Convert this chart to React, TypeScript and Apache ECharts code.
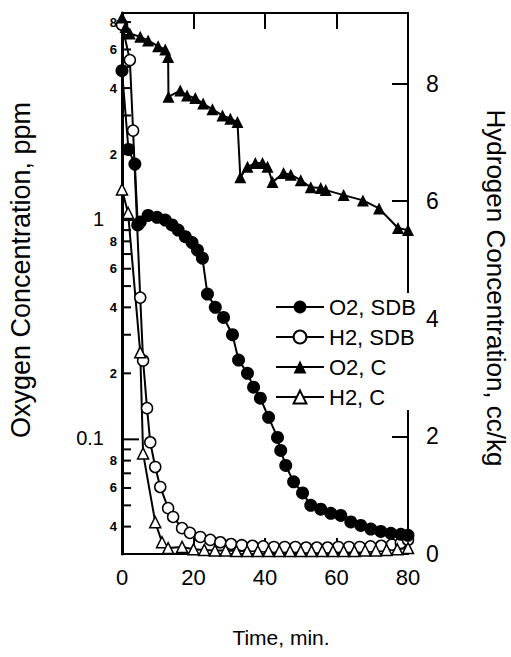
import React, { useEffect, useRef } from 'react';
import * as echarts from 'echarts';

const FONT = '"Liberation Sans", Arial, Helvetica, sans-serif';

// O2, SDB (filled circles) – oxygen, ppm (left log axis)
const o2SdbTime = [0, 1.8, 3.6, 4.4, 5.1, 7.3, 9.8, 12.1, 14.0, 15.7, 17.7, 19.6, 21.1, 22.5, 23.9, 26.1, 28.4, 30.9, 32.6, 35.1, 36.8, 38.7, 41.0, 43.5, 44.4, 45.8, 48.0, 50.5, 52.8, 55.6, 58.4, 61.2, 64.0, 66.8, 69.6, 72.4, 75.2, 78.0, 80];
const o2SdbPpm = [4.8, 2.1, 1.8, 0.95, 0.98, 1.05, 1.03, 1.0, 0.95, 0.9, 0.84, 0.79, 0.73, 0.67, 0.46, 0.4, 0.36, 0.3, 0.23, 0.2, 0.173, 0.154, 0.126, 0.102, 0.089, 0.076, 0.064, 0.057, 0.05, 0.048, 0.046, 0.045, 0.042, 0.0405, 0.039, 0.038, 0.0373, 0.0369, 0.0365];

// H2, SDB (open circles) – hydrogen, cc/kg (right axis)
const h2SdbTime = [0, 2.2, 3.1, 5.1, 5.9, 7.0, 7.9, 9.3, 10.7, 12.9, 14.3, 16.8, 19.0, 21.9, 24.7, 27.5, 30.5, 33.5, 36.5, 39.5, 42.5, 45.5, 48.5, 51.5, 54.5, 57.5, 60.5, 63.5, 66.5, 69.5, 72.5, 75.5, 78.0, 80];
const h2SdbCc = [9.0, 8.4, 7.2, 4.36, 3.29, 2.48, 1.9, 1.48, 1.14, 0.78, 0.63, 0.44, 0.36, 0.29, 0.24, 0.2, 0.17, 0.15, 0.14, 0.13, 0.12, 0.12, 0.12, 0.11, 0.11, 0.11, 0.12, 0.12, 0.12, 0.13, 0.14, 0.16, 0.19, 0.24];

// O2, C (filled triangles) – oxygen, ppm (left log axis)
const o2CTime = [0, 1.0, 2.2, 5.1, 7.3, 10.1, 12.1, 12.9, 13.0, 16.3, 18.2, 20.5, 22.7, 25.3, 28.1, 30.3, 32.3, 33.1, 35.1, 37.3, 39.3, 40.7, 42.1, 45.2, 47.2, 50.0, 52.8, 55.6, 57.0, 62.0, 67.4, 71.9, 77.2, 80];
const o2CPpm = [8.4, 7.6, 7.1, 6.85, 6.6, 6.2, 6.0, 5.55, 3.65, 3.9, 3.7, 3.6, 3.4, 3.2, 3.0, 2.9, 2.8, 1.57, 1.75, 1.82, 1.82, 1.75, 1.49, 1.64, 1.61, 1.52, 1.41, 1.40, 1.37, 1.30, 1.23, 1.13, 0.92, 0.90];

// H2, C (open triangles) – hydrogen, cc/kg (right axis)
const h2CTime = [0, 1.7, 5.1, 5.9, 9.3, 11.2, 12.9, 16.8, 20, 23, 26, 29, 32, 35, 38, 41, 44, 47, 50, 53, 56, 59, 62, 65, 68, 71, 74, 77, 80];
const h2CCc = [6.2, 5.8, 3.43, 1.71, 0.54, 0.2, 0.1, 0.12, 0.08, 0.07, 0.06, 0.06, 0.05, 0.05, 0.05, 0.05, 0.05, 0.05, 0.05, 0.05, 0.05, 0.05, 0.05, 0.05, 0.06, 0.06, 0.07, 0.08, 0.1];

// Left log axis ticks & labels
const leftMinorTickValues = [0.03, 0.04, 0.05, 0.06, 0.07, 0.08, 0.09, 0.2, 0.3, 0.4, 0.5, 0.6, 0.7, 0.8, 0.9, 2, 3, 4, 5, 6, 7, 8];
const leftMinorTickLabels = ['', '4', '', '6', '', '8', '', '2', '', '4', '', '6', '', '8', '', '2', '', '4', '', '6', '', '8'];
const leftMajorTickValues = [0.1, 1];
const leftMajorTickLabels = ['0.1', '1'];

const seriesNames = ['O2, SDB', 'H2, SDB', 'O2, C', 'H2, C'];

const pairs = (xs: number[], ys: number[]) => xs.map((x, i) => [x, ys[i]]);

export default function App() {
  const ref = useRef<HTMLDivElement>(null);
  useEffect(() => {
    const chart = echarts.init(ref.current!, null, { renderer: 'svg' });
    const lineStyle = { color: '#000', width: 2 };
    const axisLineStyle = { color: '#000', width: 2 };
    const option: any = {
      animation: false,
      backgroundColor: '#fff',
      grid: { left: 122, right: 103, top: 13, bottom: 103, containLabel: false },
      legend: {
        orient: 'vertical',
        left: 271,
        top: 293,
        z: 20,
        backgroundColor: '#fff',
        padding: [3, 6, 2, 4],
        itemGap: 8,
        itemWidth: 48,
        itemHeight: 16,
        selectedMode: false,
        textStyle: { fontSize: 22, lineHeight: 22, fontFamily: FONT, color: '#000' },
        data: seriesNames,
      },
      xAxis: [
        {
          type: 'value', min: 0, max: 80, interval: 20, position: 'bottom',
          axisLine: { onZero: false, lineStyle: axisLineStyle },
          axisTick: { inside: true, length: 16, lineStyle: axisLineStyle },
          axisLabel: { fontSize: 22, margin: 12, color: '#000', fontFamily: FONT },
          splitLine: { show: false },
        },
        {
          type: 'value', min: 0, max: 80, interval: 20, position: 'top',
          axisLine: { onZero: false, lineStyle: axisLineStyle },
          axisTick: { inside: true, length: 16, lineStyle: axisLineStyle },
          axisLabel: { show: false },
          splitLine: { show: false },
        },
      ],
      yAxis: [
        {
          type: 'log', logBase: 10, min: 0.03, max: 8.8, position: 'left',
          axisLine: { show: true, onZero: false, lineStyle: { color: '#000', width: 3 } },
          axisTick: { show: false },
          axisLabel: { show: false },
          splitLine: { show: false },
        },
        {
          type: 'value', min: 0, max: 9.2, interval: 2, position: 'right',
          axisLine: { show: true, onZero: false, lineStyle: axisLineStyle },
          axisTick: { inside: true, length: 16, lineStyle: axisLineStyle },
          axisLabel: { fontSize: 23, margin: 18, color: '#000', fontFamily: FONT, showMaxLabel: false },
          splitLine: { show: false },
        },
      ],
      series: [
        {
          name: seriesNames[0], type: 'line', xAxisIndex: 0, yAxisIndex: 0,
          data: pairs(o2SdbTime, o2SdbPpm),
          symbol: 'circle', symbolSize: 13,
          itemStyle: { color: '#000' }, lineStyle, z: 4,
        },
        {
          name: seriesNames[1], type: 'line', xAxisIndex: 0, yAxisIndex: 1,
          data: pairs(h2SdbTime, h2SdbCc),
          symbol: 'circle', symbolSize: 11,
          itemStyle: { color: '#fff', borderColor: '#000', borderWidth: 1.5 }, lineStyle, z: 3,
        },
        {
          name: seriesNames[2], type: 'line', xAxisIndex: 0, yAxisIndex: 0,
          data: pairs(o2CTime, o2CPpm),
          symbol: 'triangle', symbolSize: 12,
          itemStyle: { color: '#000' }, lineStyle, z: 3,
        },
        {
          name: seriesNames[3], type: 'line', xAxisIndex: 0, yAxisIndex: 1,
          data: pairs(h2CTime, h2CCc),
          symbol: 'triangle', symbolSize: 11,
          itemStyle: { color: '#fff', borderColor: '#000', borderWidth: 1.5 }, lineStyle, z: 3,
        },
        {
          name: 'leftMinorTicks', type: 'custom', xAxisIndex: 0, yAxisIndex: 0,
          clip: false, silent: true, z: 1,
          data: leftMinorTickValues.map((v) => [0, v]),
          encode: { x: 0, y: 1 },
          renderItem: (params: any, api: any) => {
            const p = api.coord([0, api.value(1)]);
            const label = leftMinorTickLabels[params.dataIndex];
            const children: any[] = [
              { type: 'line', shape: { x1: p[0], y1: p[1], x2: p[0] + 9, y2: p[1] }, style: { stroke: '#000', lineWidth: 2 } },
            ];
            if (label) {
              children.push({
                type: 'text', x: p[0] - 5, y: p[1],
                style: { text: label, fill: '#000', fontSize: 13, fontWeight: 'bold', fontFamily: FONT, align: 'right', verticalAlign: 'middle' },
              });
            }
            return { type: 'group', children };
          },
        },
        {
          name: 'leftMajorTicks', type: 'custom', xAxisIndex: 0, yAxisIndex: 0,
          clip: false, silent: true, z: 1,
          data: leftMajorTickValues.map((v) => [0, v]),
          encode: { x: 0, y: 1 },
          renderItem: (params: any, api: any) => {
            const p = api.coord([0, api.value(1)]);
            const label = leftMajorTickLabels[params.dataIndex];
            return {
              type: 'group',
              children: [
                { type: 'line', shape: { x1: p[0], y1: p[1], x2: p[0] + 17, y2: p[1] }, style: { stroke: '#000', lineWidth: 2 } },
                {
                  type: 'text', x: p[0] - 18, y: p[1] - 1,
                  style: { text: label, fill: '#000', fontSize: 20, fontFamily: FONT, align: 'right', verticalAlign: 'middle' },
                },
              ],
            };
          },
        },
      ],
      graphic: [
        {
          type: 'text', x: 21, y: 270, rotation: Math.PI / 2,
          style: { text: 'Oxygen Concentration, ppm', fill: '#000', fontSize: 27, fontFamily: FONT, align: 'center', verticalAlign: 'middle' },
        },
        {
          type: 'text', x: 496, y: 288, rotation: -Math.PI / 2,
          style: { text: 'Hydrogen Concentration, cc/kg', fill: '#000', fontSize: 26, fontFamily: FONT, align: 'center', verticalAlign: 'middle' },
        },
        {
          type: 'text', x: 281, y: 637,
          style: { text: 'Time, min.', fill: '#000', fontSize: 21, fontFamily: FONT, align: 'center', verticalAlign: 'middle' },
        },
      ],
    };
    chart.setOption(option);
    return () => chart.dispose();
  }, []);
  return <div ref={ref} style={{ position: 'absolute', left: 0, top: 0, width: 511, height: 657 }} />;
}
